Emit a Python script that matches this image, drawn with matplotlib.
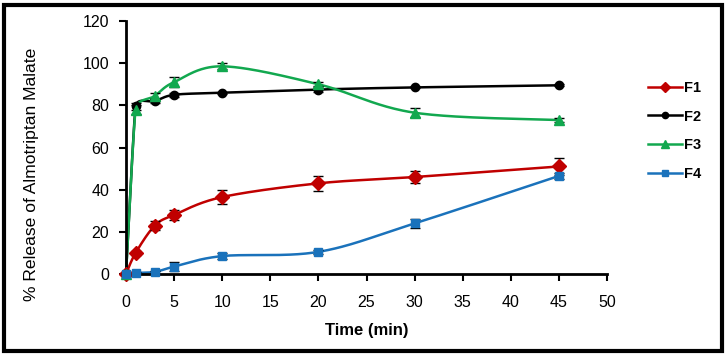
import numpy as np
import matplotlib
matplotlib.use("Agg")
import matplotlib.pyplot as plt
from matplotlib.patches import Rectangle
from matplotlib.lines import Line2D

time = [0, 1, 3, 5, 10, 20, 30, 45]
f1 = [0, 10, 23, 28, 36.5, 43, 46, 51]
f2 = [0, 79.5, 82, 85, 86, 87.5, 88.5, 89.5]
f3 = [0, 78, 84.5, 91, 98.5, 90, 76.5, 73]
f4 = [0, 0.5, 1, 3.5, 8.5, 10.5, 24, 46.5]
e1 = [0, 1, 2, 2.5, 3.5, 3.5, 3, 4]
e2 = [0, 1.5, 1, 1, 0.5, 1, 0.5, 0.5]
e3 = [0, 2, 1.5, 2.5, 1.5, 1, 2, 1]
e4 = [0, 0.5, 0.5, 2, 1.5, 1, 2, 1.5]
labels = ["F1", "F2", "F3", "F4"]
colors = ["#C00000", "#000000", "#12A84F", "#1A72BB"]
markers = ["D", "o", "^", "s"]
msizes = [7, 6, 7, 5.5]

plt.rcParams['font.family'] = ['Liberation Sans', 'DejaVu Sans']

W, H = 727, 356
fig = plt.figure(figsize=(W / 100, H / 100), dpi=100)
ax = fig.add_axes([126 / W, 1 - 274 / H, (607 - 126) / W, (274 - 21) / H])
ax.set_xlim(0, 50)
ax.set_ylim(0, 120)


def smooth(x, y, n=40):
    # Excel-like smoothed line: Bezier segments computed in display space
    P = ax.transData.transform(np.column_stack([x, y]).astype(float))
    Pe = np.vstack([P[0], P, P[-1]])
    m = len(P)
    seglen = np.hypot(*(P[1:] - P[:-1]).T)
    out = []
    for i in range(m - 1):
        p0 = P[i]
        p3 = P[i + 1]
        T0 = Pe[i + 2] - Pe[i]
        T1 = Pe[i + 3] - Pe[i + 1]

        def ctrl(T, j):
            nrm = np.hypot(*T)
            if nrm == 0:
                return T * 0
            lens = [seglen[k] for k in (j - 1, j) if 0 <= k < m - 1]
            cap = min(lens) / 2.0
            off = nrm / 6.0
            return T / nrm * min(off, cap)
        c1 = p0 + ctrl(T0, i)
        c2 = p3 - ctrl(T1, i + 1)
        t = np.linspace(0, 1, n)[:, None]
        seg = ((1 - t) ** 3) * p0 + 3 * ((1 - t) ** 2) * t * c1 + 3 * (1 - t) * t ** 2 * c2 + t ** 3 * p3
        out.append(seg if i == 0 else seg[1:])
    s = ax.transData.inverted().transform(np.vstack(out))
    return s[:, 0], s[:, 1]


series = [f1, f2, f3, f4]
errs = [e1, e2, e3, e4]
handles = []
for y, e, lab, c, m, ms in zip(series, errs, labels, colors, markers, msizes):
    sx, sy = smooth(time, y)
    ax.plot(sx, sy, color=c, lw=1.8, zorder=2, clip_on=False)
    ax.errorbar(time, y, yerr=e, fmt='none', ecolor='black', elinewidth=1.0,
                capsize=3.5, capthick=1.0, zorder=3, clip_on=False)
    ax.plot(time, y, linestyle='none', marker=m, markersize=ms, color=c,
            markeredgecolor=c, zorder=4, clip_on=False)
    handles.append(Line2D([0], [0], color=c, lw=1.8, marker=m,
                          markersize=ms * 0.75, markeredgecolor=c))

ax.set_xticks(range(0, 51, 5))
ax.set_yticks(range(0, 121, 20))
ax.spines['top'].set_visible(False)
ax.spines['right'].set_visible(False)
for s in ['left', 'bottom']:
    ax.spines[s].set_linewidth(2)
ax.tick_params(direction='out', length=5, width=1.5, labelsize=11.5)
ax.tick_params(axis='x', pad=10)
ax.tick_params(axis='y', pad=7)
ax.set_xlabel("Time (min)", fontsize=12, fontweight='bold', va='center')
ax.xaxis.set_label_coords(0.5, (274 - 330) / 253)
ax.set_ylabel("% Release of Almotriptan Malate", fontsize=12.6, va='center')
ax.yaxis.set_label_coords((32 - 126) / 481, (274 - 174.5) / 253)

fig.legend(handles, labels, loc='upper left', bbox_to_anchor=(648 / W, 1 - 81 / H),
           frameon=False, prop={'size': 10.5, 'weight': 'bold'},
           handlelength=2.3, handletextpad=0.2,
           labelspacing=1.0, borderaxespad=0, borderpad=0)

fig.patches.append(Rectangle((4 / W, 5 / H), 718 / W, 346 / H, transform=fig.transFigure,
                             fill=False, edgecolor='black', lw=3))

fig.savefig("out.png", dpi=100)
